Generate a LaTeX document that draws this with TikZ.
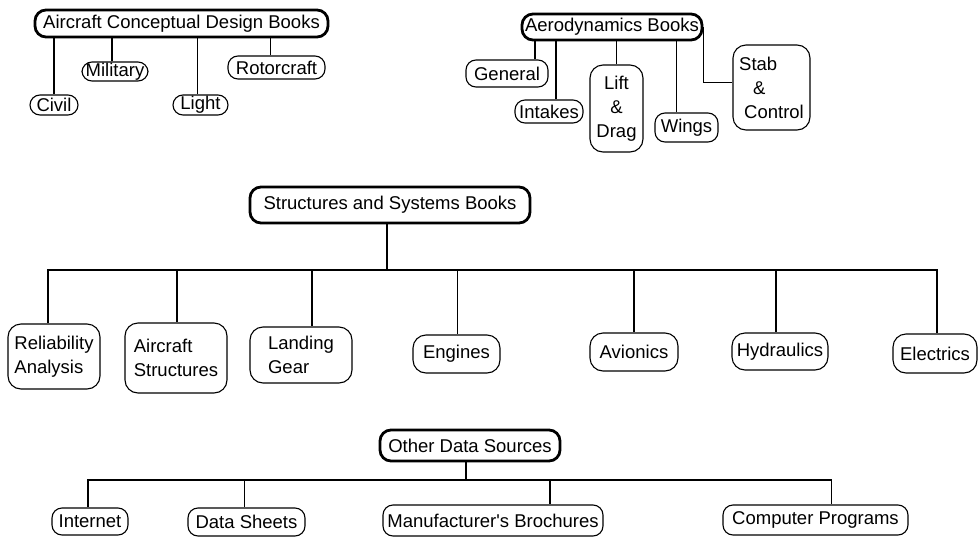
\documentclass[tikz,border=0pt]{standalone}
\usepackage{fontspec}
\setmainfont{Liberation Sans}
\usepackage{tikz}
\tikzstyle{leaf} = [draw, line width=1.1, rounded corners=10, inner sep=0, font=\fontsize{18.5}{24}\selectfont]
\tikzstyle{head} = [leaf, line width=2.8, rounded corners=11]
\tikzstyle{link} = [line width=1.2]

\begin{document}
\begin{tikzpicture}[x=1pt, y=-1pt]
\useasboundingbox (0,0) rectangle (978,536);
% aircraft design
\node [head, minimum width=293, minimum height=27] (acd) at (181.5,23.5) {Aircraft Conceptual Design Books};
\node [leaf, minimum width=48, minimum height=20] (civ) at (54,105) {Civil};
\node [leaf, minimum width=66, minimum height=19] (mil) at (115,71.5) {Military};
\node [leaf, minimum width=55, minimum height=20] (lig) at (200.5,105) {Light};
\node [leaf, minimum width=97, minimum height=23] (rot) at (276.5,67.5) {Rotorcraft};
\draw [link] (civ.north) -- (civ.north |- acd.south);
\draw [link] ([xshift=-3]mil.north) -- ([xshift=-3]mil.north |- acd.south);
\draw [link] ([xshift=-3]lig.north) -- ([xshift=-3]lig.north |- acd.south);
\draw [link] ([xshift=-6]rot.north) -- ([xshift=-6]rot.north |- acd.south);
% aerodynamics
\node [head, minimum width=180, minimum height=26] (aero) at (612,27) {Aerodynamics Books};
\node [leaf, minimum width=82, minimum height=27] (gen) at (507,73.5) {General};
\node [leaf, minimum width=68, minimum height=23] (intk) at (549,111.5) {Intakes};
\node [leaf, minimum width=53, minimum height=87, align=center, rounded corners=13] (lift) at (616.5,108.5) {Lift\\\&\\Drag};
\node [leaf, minimum width=63, minimum height=29] (wing) at (686.5,127.5) {Wings};
\node [leaf, minimum width=77, minimum height=85, align=left, rounded corners=13] (stab) at (771.5,87.5) {Stab\\\hspace{14pt}\&\\\hspace{5pt}Control};
\draw [link] ([xshift=28]gen.north) -- ([xshift=28]gen.north |- aero.south);
\draw [link] ([xshift=7]intk.north) -- ([xshift=7]intk.north |- aero.south);
\draw [link] (lift.north) -- (lift.north |- aero.south);
\draw [link] ([xshift=-10]wing.north) -- ([xshift=-10]wing.north |- aero.south);
\draw [link] (aero.east) |- ([yshift=5]stab.west);
% structures and systems
\node [head, minimum width=280, minimum height=36] (ssb) at (390,205) {Structures and Systems Books};
\coordinate (sbus) at (387,270);
\node [leaf, minimum width=92, minimum height=65, align=left, rounded corners=13] (rel) at (54,356.5) {Reliability\\Analysis};
\node [leaf, minimum width=102, minimum height=70, align=left, rounded corners=13] (str) at (176,358) {Aircraft\\Structures};
\node [leaf, minimum width=102, minimum height=56, align=left, rounded corners=13] (lan) at (301,355) {Landing\\Gear};
\node [leaf, minimum width=87, minimum height=38, rounded corners=13] (eng) at (456.5,354) {Engines};
\node [leaf, minimum width=88, minimum height=38, rounded corners=13] (avi) at (634,352) {Avionics};
\node [leaf, minimum width=96, minimum height=37, rounded corners=13] (hyd) at (780,351.5) {Hydraulics};
\node [leaf, minimum width=84, minimum height=39, rounded corners=13] (ele) at (935,353.5) {Electrics};
\draw [link] ([xshift=-3]ssb.south) -- (sbus);
\draw [link] (sbus) -| ([xshift=-6]rel.north);
\draw [link] (sbus) -| ([xshift=1]str.north);
\draw [link] (sbus) -| ([xshift=11]lan.north);
\draw [link] (sbus) -| ([xshift=1]eng.north);
\draw [link] (sbus) -| (avi.north);
\draw [link] (sbus) -| ([xshift=-4]hyd.north);
\draw [link] (sbus) -| ([xshift=2]ele.north);
% other data
\node [head, minimum width=180, minimum height=31] (ods) at (470,445.5) {Other Data Sources};
\coordinate (obus) at (466,480);
\node [leaf, minimum width=76, minimum height=27] (inet) at (90,521.5) {Internet};
\node [leaf, minimum width=117, minimum height=28] (dsh) at (246.5,522) {Data Sheets};
\node [leaf, minimum width=220, minimum height=31] (man) at (493,520.5) {Manufacturer\textquotesingle s Brochures};
\node [leaf, minimum width=185, minimum height=30] (cmp) at (815.5,520) {Computer Programs};
\draw [link] ([xshift=-4]ods.south) -- (obus);
\draw [link] (obus) -| ([xshift=-2]inet.north);
\draw [link] (obus) -| ([xshift=-2]dsh.north);
\draw [link] (obus) -| ([xshift=57]man.north);
\draw [link] (obus) -| ([xshift=16]cmp.north);
\end{tikzpicture}
\end{document}
